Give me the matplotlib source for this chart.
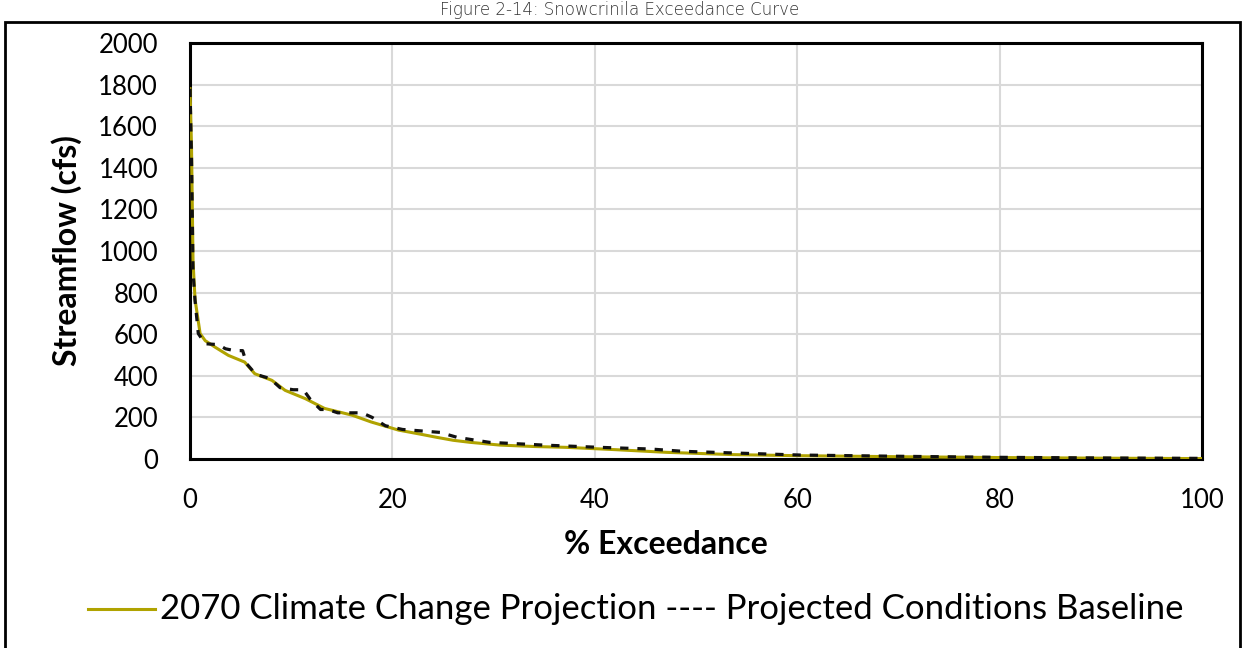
import matplotlib
matplotlib.use("Agg")
import matplotlib.pyplot as plt
from matplotlib.patches import Rectangle
from matplotlib.lines import Line2D

# ---- data ----
climate_x = [0, 0.15, 0.3, 0.5, 1.0, 1.5, 2.5, 3.8, 5.4, 6.4, 8.1, 9.4, 11.4,
             13.3, 16.0, 17.9, 20.6, 22.7, 24.4, 26.0, 27.7, 30.6, 34.0, 37.2,
             42.0, 47.1, 53.7, 60.0, 70.0, 80.0, 90.0, 100.0]
climate_y = [1780, 1500, 950, 767, 603, 569, 537, 498, 466, 410, 378, 330, 290,
             243, 211, 178, 139, 120, 104, 90, 80, 67, 60, 56,
             45, 32, 21, 16, 11, 7, 4, 2]

baseline_x = [0, 0.15, 0.3, 0.5, 0.82, 1.5, 2.8, 3.5, 4.4, 5.2, 5.6, 6.5, 7.9,
              8.9, 10.2, 11.2, 11.9, 12.9, 13.6, 14.6, 17.0, 18.0, 19.3, 21.0,
              24.7, 26.4, 29.6, 34.9, 40.5, 45.5, 48.7, 53.7, 60.3, 70.2, 80.0,
              90.0, 100.0]
baseline_y = [1780, 1450, 900, 760, 603, 554, 550, 530, 521, 521, 458, 407, 387,
              343, 333, 333, 286, 238, 238, 222, 222, 200, 160, 142,
              128, 104, 80, 67, 56, 48, 37, 29, 19, 13, 8,
              5, 3]

x_ticks = [0, 20, 40, 60, 80, 100]
y_ticks = [0, 200, 400, 600, 800, 1000, 1200, 1400, 1600, 1800, 2000]

climate_label = "2070 Climate Change Projection"
baseline_label = "Projected Conditions Baseline"
title_text = "Figure 2-14: Snowcrinila Exceedance Curve"

GREEN = "#B0A300"
FONT = ["Lato", "DejaVu Sans"]

plt.rcParams['font.family'] = FONT

fig = plt.figure(figsize=(12.44, 6.48), dpi=100)
fig.patch.set_facecolor("white")

W, H = 1244, 648
ax = fig.add_axes([190 / W, 1 - 459 / H, (1202 - 190) / W, (459 - 43) / H])

ax.plot(climate_x, climate_y, color=GREEN, lw=2.2, zorder=3)
ax.plot(baseline_x, baseline_y, color="#111111", lw=2.3,
        dashes=(2.6, 2.8), zorder=4)

ax.set_xlim(0, 100)
ax.set_ylim(0, 2000)
ax.set_xticks(x_ticks)
ax.set_yticks(y_ticks)
ax.grid(True, color="#d9d9d9", lw=1.5)
ax.set_axisbelow(True)
ax.tick_params(length=0, labelsize=18.5, colors="black")
ax.tick_params(axis='y', pad=23)
ax.tick_params(axis='x', pad=21)
for s in ax.spines.values():
    s.set_linewidth(2.2)
    s.set_color("black")

fig.text(67 / W, 1 - 251 / H, "Streamflow (cfs)", fontsize=23,
         fontweight="bold", rotation=90, ha="center", va="center")
fig.text(666 / W, 1 - 545 / H, "% Exceedance", fontsize=23, fontweight="bold",
         ha="center", va="center")

# legend drawn as figure artists
fig.add_artist(Line2D([88 / W, 155 / W], [1 - 609 / H, 1 - 609 / H],
                      color=GREEN, lw=2.2, transform=fig.transFigure))
fig.text(160 / W, 1 - 609 / H,
         climate_label + " ---- " + baseline_label,
         fontsize=25, ha="left", va="center")

# outer frame
fig.add_artist(Rectangle((5 / W, -0.01), (1240 - 5) / W, 1 - 22 / H + 0.01,
                         transform=fig.transFigure, fill=False,
                         edgecolor="black", lw=2.0))

# title at the very top
fig.text(620 / W, 1 - 1 / H, title_text, fontsize=12, color="#333333",
         ha="center", va="top", family=["DejaVu Sans"], fontweight="light")

fig.savefig("out.png", dpi=100, facecolor="white")
